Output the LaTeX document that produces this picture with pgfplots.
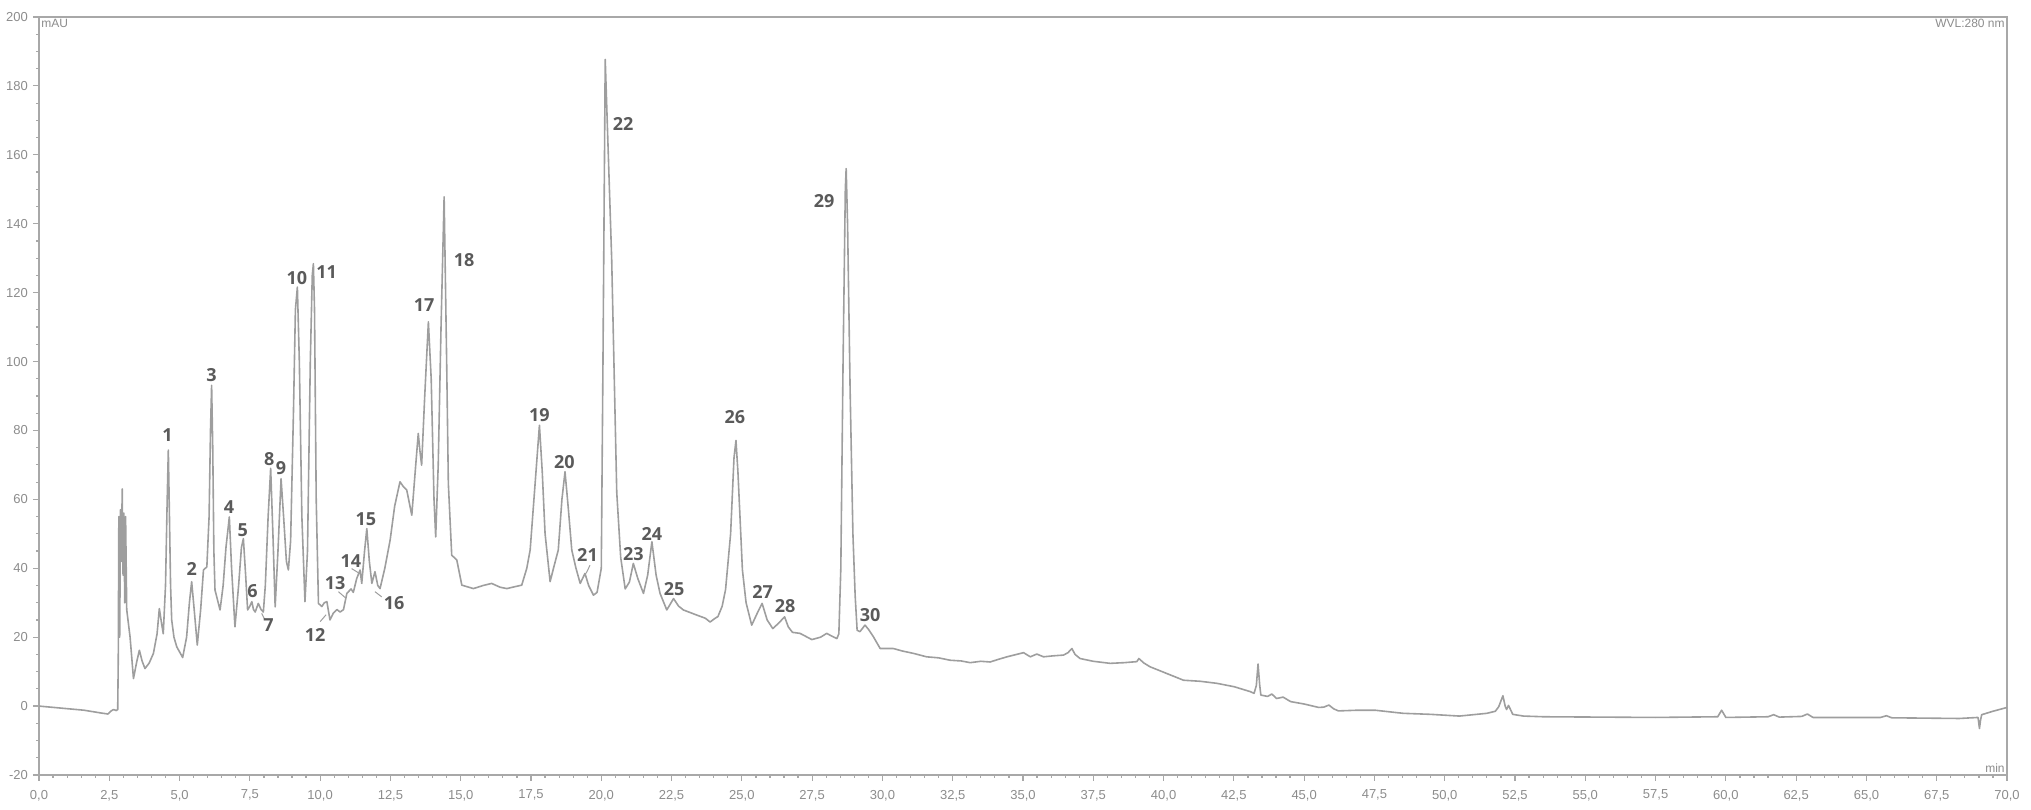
\documentclass[border=0pt]{standalone}
\usepackage{fontspec}
\setmainfont{Liberation Sans}
\newfontfamily\lblfont{Open Sans}
\usepackage{pgfplots}
\pgfplotsset{compat=1.18}
\definecolor{trace}{HTML}{9E9E9E}
\definecolor{axc}{HTML}{A8A8A8}
\definecolor{tlc}{HTML}{8C8C8C}
\definecolor{lbc}{HTML}{5A5A5A}
\begin{document}
\begin{tikzpicture}
\begin{axis}[
  scale only axis, width=984pt, height=379pt,
  xmin=0, xmax=70, ymin=-20, ymax=200,
  xtick distance=2.5, minor x tick num=4,
  ytick distance=20, minor y tick num=3,
  tick pos=left, tick align=outside,
  major tick length=3pt, minor tick length=1.5pt,
  axis line style={axc, line width=0.8pt},
  every tick/.append style={axc, line width=0.6pt},
  tick label style={font=\fontsize{6.5}{7}\selectfont, text=tlc},
  /pgf/number format/assume math mode=true,
  x tick label style={/pgf/number format/fixed, /pgf/number format/fixed zerofill, /pgf/number format/precision=1, /pgf/number format/use comma, yshift=-1pt},
  y tick label style={/pgf/number format/fixed, /pgf/number format/precision=0, xshift=1pt},
  clip=true,
]
\addplot[trace, line width=0.8pt, line join=round] coordinates {
(0.00,0.0) (0.8,-0.6) (1.6,-1.2) (2.2,-2.0) (2.45,-2.3) (2.55,-1.5) (2.65,-1.0) (2.75,-1.3) (2.80,-1.0)
(2.82,14) (2.84,55) (2.87,20) (2.90,57) (2.93,42) (2.96,63) (2.99,38) (3.02,56) (3.05,30) (3.08,55) (3.12,28)
(3.24,20) (3.36,8.0) (3.48,13) (3.57,16.2) (3.67,13) (3.77,10.9) (3.92,12.5) (4.07,15.3) (4.20,21) (4.28,28.3)
(4.36,24) (4.42,21) (4.50,35) (4.56,60) (4.60,74.3) (4.64,55) (4.68,35) (4.72,25) (4.80,20) (4.90,17.2)
(5.11,14.1) (5.25,20) (5.35,30) (5.43,36.1) (5.52,28) (5.63,17.7) (5.75,28) (5.85,39.5) (5.97,40.4) (6.05,55)
(6.10,80) (6.14,93.1) (6.18,75) (6.22,45) (6.26,33.7) (6.44,27.9) (6.55,35) (6.65,46) (6.77,54.9) (6.85,40)
(6.97,23) (7.10,35) (7.20,46) (7.27,48.6) (7.35,38) (7.42,27.9) (7.50,29) (7.57,30.3) (7.63,28) (7.69,27.3)
(7.80,29.8) (7.90,28) (7.98,27.3) (8.05,35) (8.15,55) (8.24,69) (8.32,50) (8.40,28.8) (8.50,45) (8.61,66)
(8.70,55) (8.80,42) (8.87,39.5) (8.95,48) (9.05,85) (9.12,115) (9.19,121.6) (9.26,100) (9.35,55) (9.46,30.3)
(9.55,45) (9.65,100) (9.72,125) (9.76,128.4) (9.80,115) (9.86,60) (9.94,29.8) (10.06,28.9) (10.15,30) (10.24,30.3)
(10.35,25) (10.47,27) (10.60,28) (10.71,27.3) (10.83,28) (10.95,32.7) (11.10,34) (11.18,33) (11.30,37) (11.42,39.5)
(11.48,35.6) (11.58,45) (11.66,51.5) (11.75,42) (11.84,35.6) (11.95,39) (12.05,35) (12.13,34.1) (12.30,40) (12.49,48.2)
(12.65,58) (12.84,65.1) (12.96,63.7) (13.08,62.7) (13.26,55.4) (13.40,70) (13.49,79.1) (13.55,74) (13.61,69.9) (13.72,90)
(13.85,111.5) (13.95,95) (14.05,60) (14.11,49.1) (14.20,70) (14.30,110) (14.41,147.8) (14.50,100) (14.56,64.6) (14.68,43.8)
(14.86,42.4) (15.04,35.1) (15.45,34.1) (15.80,35) (16.10,35.6) (16.40,34.5) (16.64,34.1) (16.90,34.6) (17.17,35.1) (17.35,40)
(17.47,45.3) (17.65,65) (17.80,81.5) (17.90,68) (18.00,50.1) (18.18,36.1) (18.30,40) (18.47,45.3) (18.60,60) (18.71,68)
(18.82,58) (18.95,45.3) (19.10,40) (19.25,35.6) (19.42,38.5) (19.55,35) (19.72,32.2) (19.85,33) (20.00,40) (20.06,100)
(20.14,187.7) (20.25,160) (20.37,129.7) (20.55,62) (20.69,43.2) (20.85,34) (21.00,36) (21.14,41.4) (21.30,37) (21.50,32.7)
(21.65,38) (21.80,47.7) (21.95,38) (22.09,32.7) (22.33,27.9) (22.57,31.2) (22.75,29) (22.92,27.9) (23.40,26.4) (23.70,25.5)
(23.87,24.4) (24.00,25.2) (24.15,26) (24.30,29) (24.42,33.8) (24.60,50) (24.72,72) (24.79,77.1) (24.86,68) (25.02,39.5)
(25.15,30) (25.35,23.5) (25.55,27) (25.72,29.8) (25.90,25) (26.10,22.5) (26.30,24) (26.52,25.9) (26.65,23) (26.80,21.4)
(27.07,21.1) (27.49,19.3) (27.80,20) (28.02,21.1) (28.20,20.3) (28.38,19.6) (28.45,21) (28.52,40) (28.60,100) (28.68,150)
(28.71,156) (28.76,140) (28.85,92) (28.95,50) (29.03,32) (29.10,22) (29.20,21.6) (29.38,23.5) (29.50,22.3) (29.68,20.1)
(29.92,16.7) (30.39,16.7) (30.70,16.0) (31.10,15.3) (31.57,14.3) (32.00,14.0) (32.41,13.3) (32.80,13.1) (33.12,12.6) (33.50,13.0)
(33.83,12.8) (34.10,13.5) (34.43,14.3) (35.02,15.5) (35.26,14.3) (35.49,15.1) (35.73,14.3) (36.10,14.6) (36.44,14.8) (36.60,15.5)
(36.74,16.7) (36.85,15.0) (37.03,13.8) (37.50,13.0) (38.10,12.4) (38.60,12.6) (39.05,12.9) (39.12,13.8) (39.30,12.5) (39.52,11.4)
(40.10,9.5) (40.71,7.5) (41.30,7.2) (41.90,6.6) (42.52,5.6) (43.08,4.2) (43.22,3.7) (43.30,6) (43.36,12.2) (43.42,6)
(43.46,3.2) (43.70,2.8) (43.85,3.5) (44.02,2.2) (44.25,2.6) (44.52,1.3) (45.00,0.6) (45.52,-0.4) (45.70,-0.3) (45.88,0.3)
(46.05,-0.8) (46.22,-1.4) (46.90,-1.2) (47.52,-1.2) (48.52,-2.1) (49.50,-2.4) (50.52,-2.9) (51.50,-2.1) (51.80,-1.5) (51.92,-0.2)
(52.07,3.0) (52.15,0.0) (52.20,-1.0) (52.27,0.2) (52.42,-2.4) (52.80,-2.9) (53.52,-3.1) (55.50,-3.2) (57.51,-3.3) (59.71,-3.1)
(59.85,-1.2) (60.00,-3.3) (61.50,-3.1) (61.70,-2.5) (61.90,-3.2) (62.70,-3.0) (62.90,-2.3) (63.10,-3.3) (65.50,-3.3) (65.71,-2.8)
(65.90,-3.4) (68.30,-3.6) (68.97,-3.3) (69.02,-6.5) (69.06,-4) (69.10,-2.5) (69.50,-1.5) (70.00,-0.4)
};
% leader lines
\draw[trace, line width=0.5pt] (axis cs:7.92,26.9) -- (axis cs:8.04,25.0);
\draw[trace, line width=0.5pt] (axis cs:10.0,24.5) -- (axis cs:10.21,26.5);
\draw[trace, line width=0.5pt] (axis cs:10.65,33.2) -- (axis cs:10.89,31.5);
\draw[trace, line width=0.5pt] (axis cs:11.12,39.9) -- (axis cs:11.36,38.7);
\draw[trace, line width=0.5pt] (axis cs:11.95,33.2) -- (axis cs:12.19,31.7);
\draw[trace, line width=0.5pt] (axis cs:19.6,40.9) -- (axis cs:19.46,38.5);
% peak labels
\begin{scope}[every node/.style={font=\lblfont\bfseries\fontsize{9}{10}\selectfont, text=lbc, inner sep=0pt}]
\node at (axis cs:4.57,78.6) {1};
\node at (axis cs:5.43,39.9) {2};
\node at (axis cs:6.14,96) {3};
\node at (axis cs:6.76,57.8) {4};
\node at (axis cs:7.25,51.1) {5};
\node at (axis cs:7.59,33.5) {6};
\node at (axis cs:8.16,23.5) {7};
\node at (axis cs:8.19,71.6) {8};
\node at (axis cs:8.61,69.2) {9};
\node at (axis cs:9.17,124.1) {10};
\node at (axis cs:10.23,126) {11};
\node at (axis cs:9.82,20.6) {12};
\node at (axis cs:10.53,35.8) {13};
\node at (axis cs:11.09,42.2) {14};
\node at (axis cs:11.63,54.3) {15};
\node at (axis cs:12.63,29.8) {16};
\node at (axis cs:13.7,116.3) {17};
\node at (axis cs:15.12,129.4) {18};
\node at (axis cs:17.8,84.4) {19};
\node at (axis cs:18.69,70.7) {20};
\node at (axis cs:19.51,43.8) {21};
\node at (axis cs:20.78,169) {22};
\node at (axis cs:21.14,44) {23};
\node at (axis cs:21.8,49.9) {24};
\node at (axis cs:22.59,34.1) {25};
\node at (axis cs:24.75,83.9) {26};
\node at (axis cs:25.74,33.2) {27};
\node at (axis cs:26.54,29) {28};
\node at (axis cs:27.93,146.7) {29};
\node at (axis cs:29.56,26.4) {30};
\end{scope}
\node[anchor=north west, inner sep=1pt, font=\fontsize{6}{7}\selectfont, text=tlc] at (rel axis cs:0,1) {mAU};
\node[anchor=north east, inner sep=1pt, font=\fontsize{6}{7}\selectfont, text=tlc] at (rel axis cs:1,1) {WVL:280 nm};
\node[anchor=south east, inner sep=1pt, font=\fontsize{6}{7}\selectfont, text=tlc] at (rel axis cs:1,0) {min};
\coordinate (sw) at (rel axis cs:0,0);
\coordinate (ne) at (rel axis cs:1,1);
\end{axis}
\pgfresetboundingbox
\path ([xshift=-19.5pt,yshift=-17.5pt]sw) rectangle ([xshift=12pt,yshift=8.5pt]ne);
\end{tikzpicture}
\end{document}
